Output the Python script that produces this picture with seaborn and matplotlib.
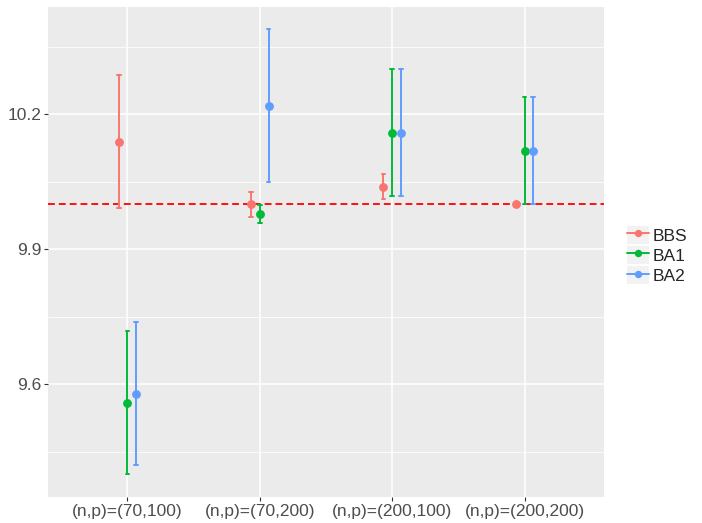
import pandas as pd
import matplotlib
matplotlib.use("Agg")
import matplotlib.pyplot as plt
from matplotlib.lines import Line2D
from matplotlib.patches import Patch
from matplotlib.legend_handler import HandlerTuple
import seaborn as sns

# values
settings = ["(n,p)=(70,100)", "(n,p)=(70,200)", "(n,p)=(200,100)", "(n,p)=(200,200)"]
methods = ["BBS", "BA1", "BA2"]

est_bbs = [10.139, 10.0, 10.039, 10.0]
lo_bbs = [9.991, 9.971, 10.012, 10.0]
hi_bbs = [10.287, 10.027, 10.067, 10.0]

est_ba1 = [9.558, 9.979, 10.159, 10.119]
lo_ba1 = [9.401, 9.959, 10.018, 10.0]
hi_ba1 = [9.718, 9.999, 10.300, 10.239]

est_ba2 = [9.578, 10.219, 10.159, 10.119]
lo_ba2 = [9.421, 10.050, 10.018, 10.0]
hi_ba2 = [9.738, 10.389, 10.300, 10.239]

true_value = 10.0

colors = ["#F8766D", "#00BA38", "#619CFF"]

# long table: low / estimate / high per cell, median = estimate, min-max = interval
rows = []
for m, est, lo, hi in zip(methods, [est_bbs, est_ba1, est_ba2],
                          [lo_bbs, lo_ba1, lo_ba2], [hi_bbs, hi_ba1, hi_ba2]):
    for s, e, l, h in zip(settings, est, lo, hi):
        for v in (l, e, h):
            rows.append({"setting": s, "method": m, "value": v})
df = pd.DataFrame(rows)

sns.set_theme(style="darkgrid", rc={
    "axes.facecolor": "#EBEBEB",
    "grid.color": "white",
    "grid.linewidth": 1.1,
})
plt.rcParams["font.family"] = ["Liberation Sans", "DejaVu Sans"]

fig = plt.figure(figsize=(7.02, 5.23), dpi=100)
ax = fig.add_axes([0.0684, 0.0503, 0.792, 0.9363])

sns.pointplot(data=df, x="setting", y="value", hue="method",
              order=settings, hue_order=methods, palette=colors,
              estimator="median", errorbar=lambda v: (v.min(), v.max()),
              dodge=0.132, linestyle="none", markers="o", markersize=4.3,
              capsize=0.028, err_kws={"linewidth": 1.4}, legend=False, ax=ax)

ax.axhline(true_value, color="#FF0000", lw=1.3, dashes=(3.8, 2.2), zorder=1)

ax.set_xlim(0.4 - 1, 4.6 - 1)
ax.set_ylim(9.35, 10.4385)
ax.set_yticks([9.6, 9.9, 10.2])
ax.set_yticklabels(["9.6", "9.9", "10.2"])
ax.set_yticks([9.45, 9.75, 10.05, 10.35], minor=True)
ax.grid(which="minor", axis="y", color="white", lw=0.55)
ax.grid(which="major", color="white", lw=1.1)
ax.set_axisbelow(True)
ax.set_xlabel("")
ax.set_ylabel("")
ax.tick_params(which="major", bottom=True, left=True, length=3, width=0.8,
               color="#333333", labelcolor="#4D4D4D", labelsize=12.5, pad=2)
ax.tick_params(which="minor", length=0)
for sp in ax.spines.values():
    sp.set_visible(False)

# ggplot-like legend keys: grey square with a line and a point
handles = [(Patch(facecolor="#F2F2F2", edgecolor="none"),
            Line2D([], [], color=c, lw=1.4, marker="o", markersize=4.3))
           for c in colors]
fig.legend(handles, methods, loc="center left",
           bbox_to_anchor=(627 / 702, 1 - 255 / 523), bbox_transform=fig.transFigure,
           handler_map={tuple: HandlerTuple(ndivide=1, pad=0)},
           frameon=False, fontsize=12.5, handlelength=1.28, handleheight=1.23,
           handletextpad=0.2, labelspacing=0.12, borderpad=0, borderaxespad=0)

fig.savefig("out.png", dpi=100)
